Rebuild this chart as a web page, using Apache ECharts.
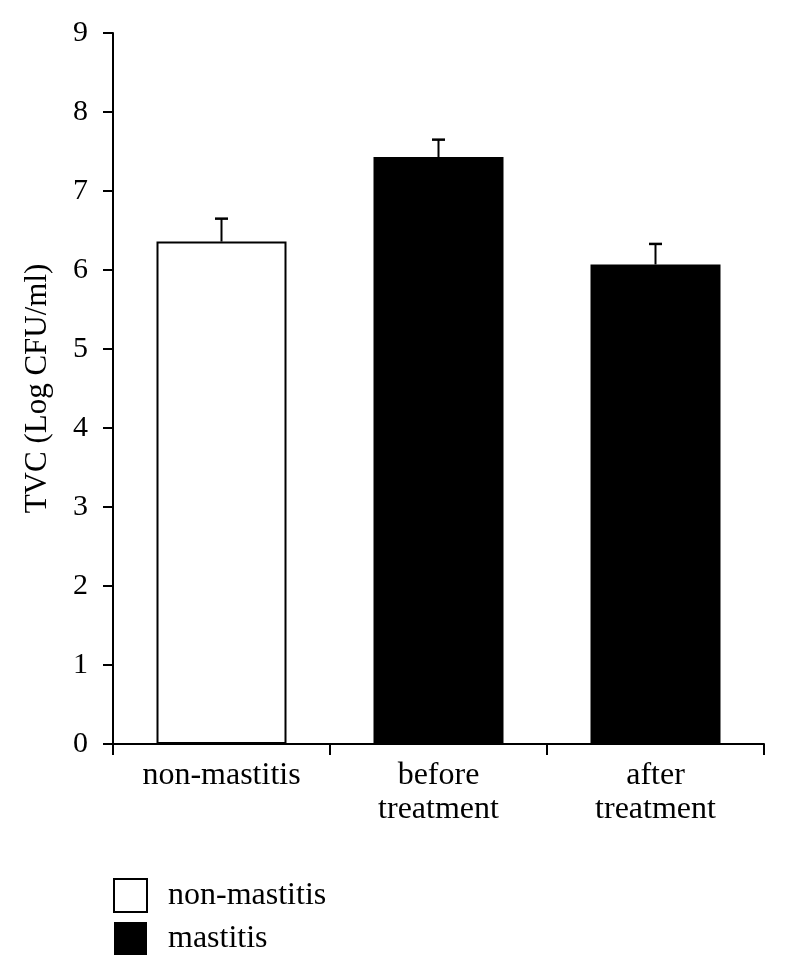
<!DOCTYPE html>
<html>
<head>
<meta charset="utf-8">
<script src="https://cdn.jsdelivr.net/npm/echarts@6/dist/echarts.min.js"></script>
<style>html,body{margin:0;padding:0;background:#fff}#c{width:786px;height:975px}</style>
</head>
<body>
<div id="c"></div>
<script>
const categories = ['non-mastitis', 'before\ntreatment', 'after\ntreatment'];
const nonMastitis = [6.36, '-', '-'];
const mastitis = ['-', 7.43, 6.07];
const means = [6.36, 7.43, 6.07];
const errorTops = [6.65, 7.65, 6.33];
const yTicks = [0, 1, 2, 3, 4, 5, 6, 7, 8, 9];
const yTitle = 'TVC (Log CFU/ml)';

const FONT = 'Liberation Serif';
const chart = echarts.init(document.getElementById('c'), null, {renderer: 'canvas'});
const errData = means.map((m, i) => [i, m, errorTops[i]]);

chart.setOption({
  animation: false,
  backgroundColor: '#fff',
  textStyle: {fontFamily: FONT, color: '#000'},
  grid: {left: 113, top: 33, width: 651, height: 711},
  legend: {
    orient: 'vertical', left: 113, top: 878, padding: 0,
    itemWidth: 33, itemHeight: 33, itemGap: 9,
    icon: 'rect',
    textStyle: {fontFamily: FONT, fontSize: 32, lineHeight: 33, color: '#000', padding: [0, 0, 0, 16]},
    data: ['non-mastitis', 'mastitis']
  },
  xAxis: {
    type: 'category', data: categories, boundaryGap: true,
    axisLine: {lineStyle: {color: '#000', width: 2}},
    axisTick: {show: true, length: 11, lineStyle: {color: '#000', width: 2}, alignWithLabel: false},
    axisLabel: {fontFamily: FONT, fontSize: 32, color: '#000', lineHeight: 34, margin: 15}
  },
  yAxis: {
    type: 'value', min: yTicks[0], max: yTicks[yTicks.length - 1], interval: 1,
    name: yTitle, nameLocation: 'middle', nameGap: 60, nameRotate: 90,
    nameTextStyle: {fontFamily: FONT, fontSize: 31, color: '#000'},
    axisLine: {show: true, lineStyle: {color: '#000', width: 2}},
    axisTick: {show: true, length: 10, lineStyle: {color: '#000', width: 2}},
    axisLabel: {fontFamily: FONT, fontSize: 30, color: '#000', margin: 25},
    splitLine: {show: false}
  },
  series: [
    {
      name: 'non-mastitis', type: 'bar', data: nonMastitis, barWidth: 130, barGap: '-100%',
      itemStyle: {color: '#fff', borderColor: '#000', borderWidth: 2}
    },
    {
      name: 'mastitis', type: 'bar', data: mastitis, barWidth: 130, barGap: '-100%',
      itemStyle: {color: '#000', borderColor: '#000', borderWidth: 0}
    },
    {
      type: 'custom', name: 'err', data: errData, z: 10,
      renderItem: function (params, api) {
        const base = api.coord([api.value(0), api.value(1)]);
        const top = api.coord([api.value(0), api.value(2)]);
        const hw = 6.5;
        return {
          type: 'group',
          children: [
            {type: 'line', shape: {x1: base[0], y1: base[1], x2: top[0], y2: top[1]}, style: {stroke: '#000', lineWidth: 2}},
            {type: 'line', shape: {x1: top[0] - hw, y1: top[1], x2: top[0] + hw, y2: top[1]}, style: {stroke: '#000', lineWidth: 2.5}}
          ]
        };
      }
    }
  ]
});
</script>
</body>
</html>
